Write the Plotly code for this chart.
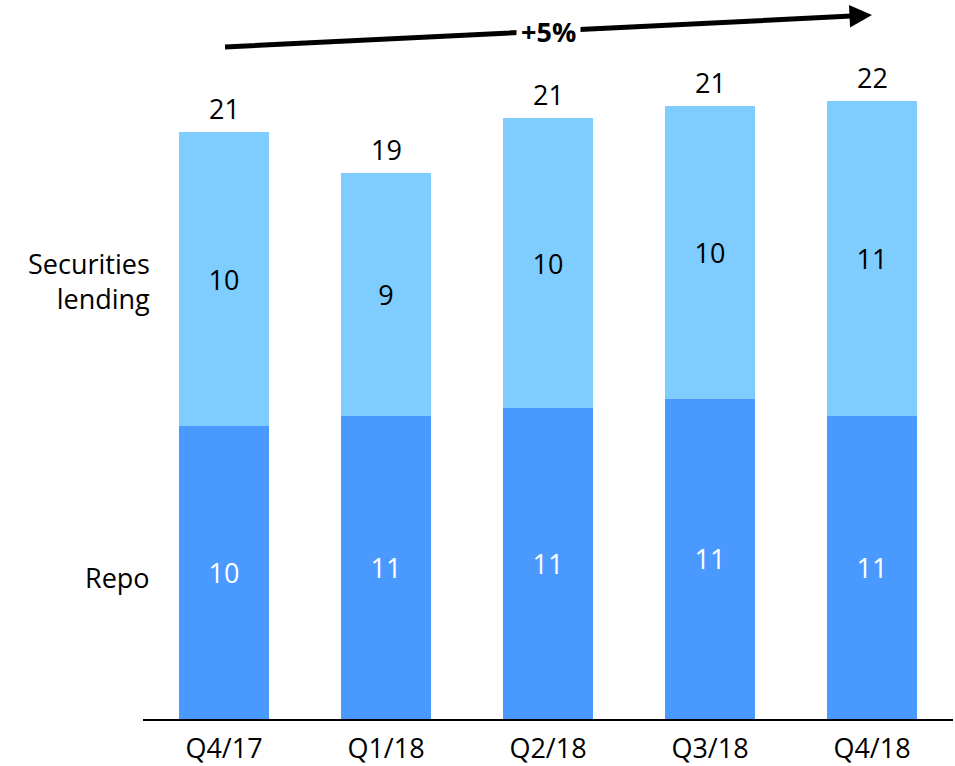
import plotly.graph_objects as go

categories = ["Q4/17", "Q1/18", "Q2/18", "Q3/18", "Q4/18"]
repo = [10.46, 10.82, 11.11, 11.43, 10.82]
sec_lending = [10.50, 8.68, 10.35, 10.46, 11.25]
repo_labels = ["10", "11", "11", "11", "11"]
sec_labels = ["10", "9", "10", "10", "11"]
total_labels = ["21", "19", "21", "21", "22"]
totals = [r + s for r, s in zip(repo, sec_lending)]

FONT = "Open Sans"
FS = 27

fig = go.Figure()
fig.add_trace(go.Bar(
    x=categories, y=repo, name="Repo",
    marker=dict(color="#4A99FF", line=dict(width=0)),
    text=repo_labels, textposition="inside", insidetextanchor="middle",
    textfont=dict(family=FONT, size=FS, color="white"),
    hoverinfo="skip",
))
fig.add_trace(go.Bar(
    x=categories, y=sec_lending, name="Securities lending",
    marker=dict(color="#7FCCFF", line=dict(width=0)),
    text=sec_labels, textposition="inside", insidetextanchor="middle",
    textfont=dict(family=FONT, size=FS, color="black"),
    hoverinfo="skip",
))

annotations = []
for c, t, lbl in zip(categories, totals, total_labels):
    annotations.append(dict(x=c, y=t, text=lbl, showarrow=False, xref="x", yref="y",
                            yanchor="middle", yshift=24,
                            font=dict(family=FONT, size=FS, color="black")))

# side labels
annotations.append(dict(x=-0.445, y=15.64, xref="x", yref="y", text="Securities<br>lending",
                        showarrow=False, xanchor="right", align="right", yanchor="middle",
                        font=dict(family=FONT, size=FS, color="black")))
annotations.append(dict(x=-0.445, y=5.07, xref="x", yref="y", text="Repo",
                        showarrow=False, xanchor="right", align="right", yanchor="middle",
                        font=dict(family=FONT, size=FS, color="black")))

# growth arrow
annotations.append(dict(x=4.0, y=25.14, ax=-0.003, ay=24.0, xref="x", yref="y",
                        axref="x", ayref="y", text="", showarrow=True,
                        arrowhead=2, arrowsize=0.9, arrowwidth=5, arrowcolor="black",
                        standoff=0, startstandoff=0))
annotations.append(dict(x=2.0, y=24.54, xref="x", yref="y", text="<b>+5%</b>",
                        showarrow=False, bgcolor="white", borderpad=4,
                        font=dict(family=FONT, size=FS, color="black")))

fig.update_layout(
    barmode="stack",
    bargap=0.445,
    width=955, height=766,
    margin=dict(l=143, r=2, t=19, b=47, autoexpand=False),
    plot_bgcolor="white", paper_bgcolor="white",
    showlegend=False,
    annotations=annotations,
    xaxis=dict(range=[-0.5, 4.5], autorange=False, automargin=False,
               showline=True, linecolor="black", linewidth=1.5, showgrid=False,
               ticks="outside", ticklen=5, tickcolor="rgba(0,0,0,0)",
               tickfont=dict(family=FONT, size=FS, color="black"), fixedrange=True),
    yaxis=dict(range=[0, 25], autorange=False, automargin=False, visible=False,
               showgrid=False, fixedrange=True),
)

fig.write_html("out.html")
